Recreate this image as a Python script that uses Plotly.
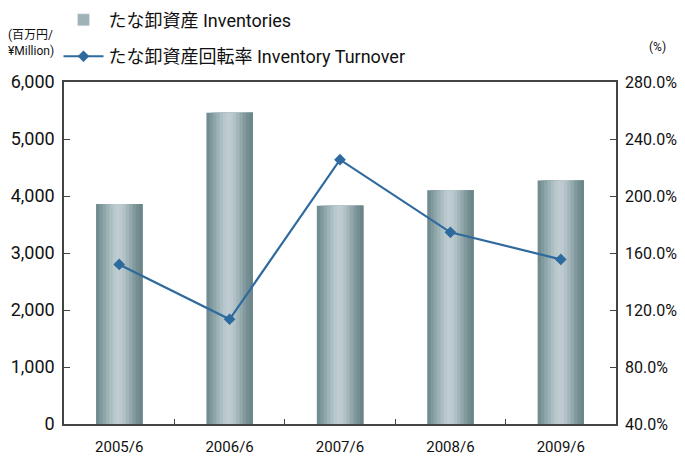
import plotly.graph_objects as go

categories = ["2005/6", "2006/6", "2007/6", "2008/6", "2009/6"]
inventories = [3860, 5460, 3830, 4100, 4270]
turnover = [152.0, 113.5, 225.5, 174.5, 155.5]

left_ticks = [0, 1000, 2000, 3000, 4000, 5000, 6000]
left_labels = ["0", "1,000", "2,000", "3,000", "4,000", "5,000", "6,000"]
right_ticks = [40, 80, 120, 160, 200, 240, 280]
right_labels = ["40.0%", "80.0%", "120.0%", "160.0%", "200.0%", "240.0%", "280.0%"]

FONT = "Roboto, Noto Sans CJK JP, sans-serif"

# gradient approximated by stripes
stripe_colors = ["#718d91", "#7f999d", "#8ea6aa", "#9db2b6", "#abbec2", "#b7c7cb", "#bfcdd1",
                 "#bccad0", "#b1c1c5", "#a2b5b9", "#92a8ac", "#829a9e", "#758e92", "#6c8689"]
n = len(stripe_colors)
bar_w = 0.42
sw = bar_w / n

fig = go.Figure()
for i, c in enumerate(stripe_colors):
    fig.add_trace(go.Bar(
        x=categories, y=inventories,
        width=bar_w - i * sw, offset=-bar_w / 2 + i * sw,
        marker=dict(color=c, line=dict(width=0)),
        name="たな卸資産 Inventories",
        showlegend=False, hoverinfo="skip",
    ))
# legend entry for bars
fig.add_trace(go.Bar(
    x=[categories[0]], y=[None], marker=dict(color="#9fb2b6"),
    name="たな卸資産 Inventories", showlegend=True, legendgroup="a",
))
fig.add_trace(go.Scatter(
    x=categories, y=turnover, yaxis="y2", mode="lines+markers",
    line=dict(color="#2e6a9e", width=2.2),
    marker=dict(symbol="diamond", size=9, color="#2e6a9e"),
    name="たな卸資産回転率 Inventory Turnover", legendgroup="b",
))

# page body adds an 8px offset; compensate in size and margins
fig.update_layout(
    width=677, height=449,
    margin=dict(l=56, r=69, t=74, b=33, autoexpand=False),
    paper_bgcolor="white", plot_bgcolor="white",
    barmode="overlay",
    font=dict(family=FONT, color="#111", size=16),
    showlegend=True,
    legend=dict(x=-0.01, y=1.235, xanchor="left", yanchor="top", orientation="v",
                font=dict(size=18, family=FONT), bgcolor="rgba(0,0,0,0)",
                tracegroupgap=10, itemwidth=40),
    xaxis=dict(type="category", showline=True, linecolor="#444", linewidth=1.5, mirror=True,
               ticks="inside", tickson="boundaries", ticklen=5, tickcolor="#444",
               tickfont=dict(size=15), showgrid=False, range=[-0.5, 4.5],
               ticklabelstandoff=8),
    yaxis=dict(range=[0, 6000], tickvals=left_ticks, ticktext=left_labels,
               showline=True, linecolor="#444", linewidth=1.5, mirror=True,
               ticks="inside", ticklen=6, tickcolor="#444", showgrid=False, zeroline=False,
               tickfont=dict(size=18), ticklabelstandoff=4),
    yaxis2=dict(range=[40, 280], tickvals=right_ticks, ticktext=right_labels,
                overlaying="y", side="right", showline=False,
                ticks="inside", ticklen=6, tickcolor="#444", showgrid=False, zeroline=False,
                tickfont=dict(size=16), ticklabelstandoff=8),
    annotations=[
        dict(text="(百万円/<br>¥Million)", xref="paper", yref="paper", x=-0.105, y=1.065,
             showarrow=False, font=dict(size=12), align="left", xanchor="left", yanchor="bottom"),
        dict(text="(%)", xref="paper", yref="paper", x=1.075, y=1.075, showarrow=False,
             font=dict(size=12), xanchor="center", yanchor="bottom"),
    ],
)

fig.write_html("out.html")
